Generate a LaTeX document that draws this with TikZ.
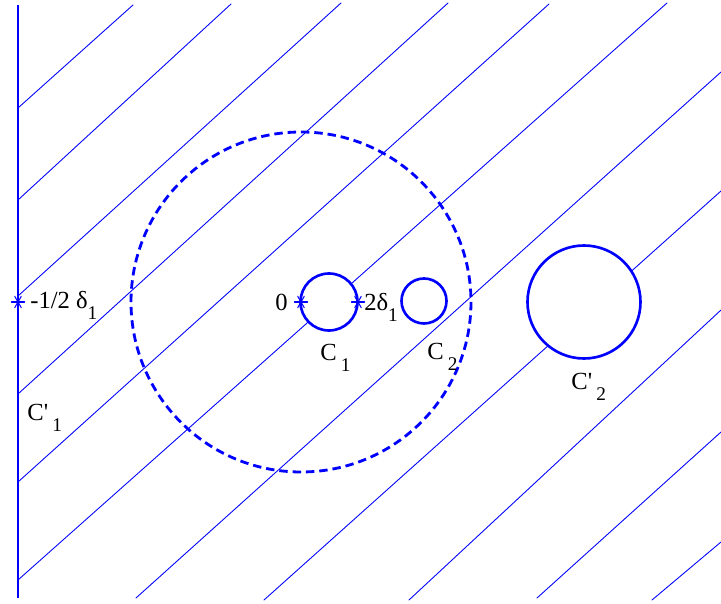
\documentclass[tikz,border=0pt]{standalone}
\usepackage{fontspec}
\setmainfont{Liberation Serif}
\newcommand{\sublab}[2]{#1\raisebox{-5.9pt}{\fontsize{11}{13}\selectfont #2}}
\begin{document}
\begin{tikzpicture}[x=0.02cm, y=-0.02cm, line join=round, line cap=round, font=\fontsize{14}{16}\selectfont]
	\tikzset{hatch/.style={blue, line width=0.5pt}, ring/.style={blue, line width=1.5pt, fill=white}, every node/.style={inner sep=0pt, anchor=base west}}
	\useasboundingbox (0,0) rectangle (721,604);
	\coordinate (mid) at (301,302); \coordinate (edge) at (18,302); \coordinate (tdel) at (358,302);
	\foreach \xa/\ya/\xb/\yb in {18/108/133/5, 18/200/231/4, 18/296/341/3, 18/394/448/3, 18/482/549/4, 18/580/667/3, 136/598/721/72, 264/600/721/191, 409/600/721/310, 537/598/721/432, 652/600/721/542}
		\draw[hatch] (\xa,\ya)--(\xb,\yb);
	\draw[blue, line width=1.7pt, line cap=butt] (18,5)--(18,598);
	\draw[ring] (329,302) circle (28.5);
	\draw[ring] (424,301) circle (22.5);
	\draw[ring] (584,302) circle (56.5);
	\draw[blue, line width=1.6pt, line cap=butt, dash pattern=on 4.8pt off 2.8pt] (mid) circle (170);
	\foreach \p in {edge, mid, tdel}
		\foreach \a in {0,60,120} \draw[blue, line width=0.6pt] (\p) ++(\a:6.5) -- ++(\a+180:13);
	\node (mhalf) at (30,309) {\sublab{-1/2 δ}{1}};
	\node (zero) [anchor=base east] at (288,311) {0};
	\node (twod) at (364,311) {\sublab{2δ}{1}};
	\node (cone) at (320,361) {\sublab{C\,}{1}};
	\node (ctwo) at (427,360) {\sublab{C\,}{2}};
	\node (conep) at (27,421) {\sublab{C\textquotesingle\,}{1}};
	\node (ctwop) at (571,390) {\sublab{C\textquotesingle\,}{2}};
\end{tikzpicture}
\end{document}
